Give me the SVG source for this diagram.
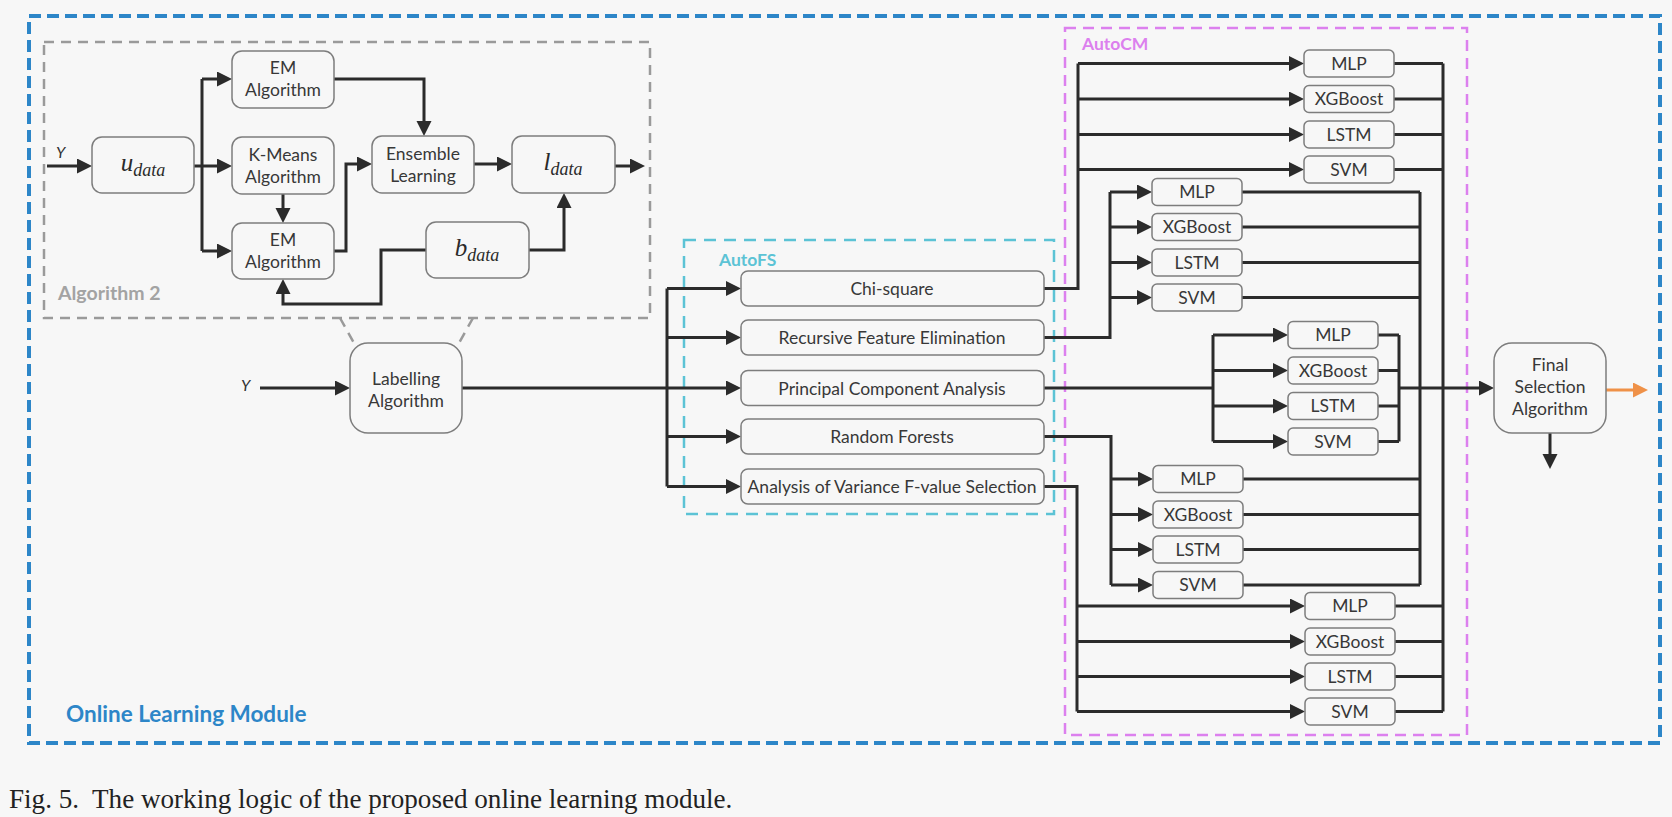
<svg xmlns="http://www.w3.org/2000/svg" width="1672" height="817" viewBox="0 0 1672 817">
<style>
.box{fill:#f7f7f7;stroke:#7d7d7d;stroke-width:1.5}
.t{font-family:Lato,"Open Sans",sans-serif;font-size:17.5px;fill:#383838;text-anchor:middle}
.m{font-family:"Liberation Serif",serif;font-style:italic;font-size:25px;fill:#2a2a2a;text-anchor:middle}
.sub{font-size:18px}
.ln{fill:none;stroke:#2b2b2b;stroke-width:3}
.ar{fill:none;stroke:#2b2b2b;stroke-width:3;marker-end:url(#ah)}
.grp{font-family:Lato,"Open Sans",sans-serif;font-weight:bold}
</style>
<defs>
<marker id="ah" markerUnits="userSpaceOnUse" markerWidth="16" markerHeight="16" refX="7" refY="7.5" orient="auto"><path d="M0,0 L15,7.5 L0,15 z" fill="#2b2b2b"/></marker>
<marker id="ao" markerUnits="userSpaceOnUse" markerWidth="16" markerHeight="16" refX="7" refY="7.5" orient="auto"><path d="M0,0 L15,7.5 L0,15 z" fill="#ef9148"/></marker>
</defs>
<rect x="0" y="0" width="1672" height="817" fill="#f7f7f7"/>

<g id="online-learning-module">
<rect x="29" y="16" width="1631" height="727" fill="none" stroke="#2d86c8" stroke-width="4" stroke-dasharray="12 6"/>
<text class="grp" x="66" y="722" font-size="22.5" fill="#2d86c8">Online Learning Module</text>
</g>

<g id="algorithm-2">
<rect x="44" y="42" width="606" height="276" fill="none" stroke="#9a9a9a" stroke-width="2.5" stroke-dasharray="10 7"/>
<text class="grp" x="58" y="300" font-size="19.5" fill="#a3a3a3">Algorithm 2</text>
<line x1="340" y1="318" x2="354" y2="343" stroke="#9a9a9a" stroke-width="2.5" stroke-dasharray="10 7"/>
<line x1="473" y1="318" x2="459" y2="343" stroke="#9a9a9a" stroke-width="2.5" stroke-dasharray="10 7"/>
</g>

<g id="autofs">
<rect x="684" y="240" width="370" height="274" fill="none" stroke="#5cc3d5" stroke-width="2.5" stroke-dasharray="12 8"/>
<text class="grp" x="719" y="266" font-size="17.5" fill="#5cc3d5">AutoFS</text>
</g>

<g id="autocm">
<rect x="1065" y="28" width="402" height="707" fill="none" stroke="#dc80ee" stroke-width="2.5" stroke-dasharray="11 7"/>
<text class="grp" x="1082" y="50" font-size="17.5" fill="#dc80ee">AutoCM</text>
</g>

<g id="connectors">
<path class="ar" d="M47,166 H84"/>
<path class="ar" d="M194,166 H224"/>
<path class="ln" d="M202,79 V251"/>
<path class="ar" d="M202,79 H224"/>
<path class="ar" d="M202,251 H224"/>
<path class="ar" d="M283,194 V215"/>
<path class="ar" d="M334,79 H424 V128"/>
<path class="ar" d="M334,251 H346 V164 H364"/>
<path class="ar" d="M474,164 H504"/>
<path class="ar" d="M615,166 H637"/>
<path class="ar" d="M529,250 H564 V201"/>
<path class="ar" d="M426,250 H381 V304 H283 V287"/>

<path class="ar" d="M260,388 H342"/>
<path class="ln" d="M462,388 H667"/>
<path class="ln" d="M667,288.5 V486.5"/>
<path class="ar" d="M667,288.5 H733"/>
<path class="ar" d="M667,337.5 H733"/>
<path class="ar" d="M667,388 H733"/>
<path class="ar" d="M667,436.5 H733"/>
<path class="ar" d="M667,486.5 H733"/>

<path class="ln" d="M1044,288.5 H1078 V63.5"/>
<path class="ar" d="M1078,63.5 H1296"/>
<path class="ar" d="M1078,99 H1296"/>
<path class="ar" d="M1078,134.5 H1296"/>
<path class="ar" d="M1078,169.5 H1296"/>
<path class="ln" d="M1394,63.5 H1443 M1394,99 H1443 M1394,134.5 H1443 M1394,169.5 H1443"/>
<path class="ln" d="M1443,63.5 V711.5"/>

<path class="ln" d="M1044,337.5 H1110 V192"/>
<path class="ar" d="M1110,192 H1144"/>
<path class="ar" d="M1110,227 H1144"/>
<path class="ar" d="M1110,262.5 H1144"/>
<path class="ar" d="M1110,297.5 H1144"/>
<path class="ln" d="M1242,192 H1420 M1242,227 H1420 M1242,262.5 H1420 M1242,297.5 H1420"/>
<path class="ln" d="M1420,192 V585"/>

<path class="ln" d="M1044,388 H1213"/>
<path class="ln" d="M1213,335 V441.5"/>
<path class="ar" d="M1213,335 H1280"/>
<path class="ar" d="M1213,370.5 H1280"/>
<path class="ar" d="M1213,406 H1280"/>
<path class="ar" d="M1213,441.5 H1280"/>
<path class="ln" d="M1378,335 H1399 M1378,370.5 H1399 M1378,406 H1399 M1378,441.5 H1399"/>
<path class="ln" d="M1399,335 V441.5"/>
<path class="ar" d="M1399,388 H1486"/>

<path class="ln" d="M1044,436.5 H1111 V585"/>
<path class="ar" d="M1111,479 H1145"/>
<path class="ar" d="M1111,514.5 H1145"/>
<path class="ar" d="M1111,549.5 H1145"/>
<path class="ar" d="M1111,585 H1145"/>
<path class="ln" d="M1243,479 H1420 M1243,514.5 H1420 M1243,549.5 H1420 M1243,585 H1420"/>

<path class="ln" d="M1044,486.5 H1077 V711.5"/>
<path class="ar" d="M1077,606 H1297"/>
<path class="ar" d="M1077,641.5 H1297"/>
<path class="ar" d="M1077,676.5 H1297"/>
<path class="ar" d="M1077,711.5 H1297"/>
<path class="ln" d="M1395,606 H1443 M1395,641.5 H1443 M1395,676.5 H1443 M1395,711.5 H1443"/>

<path fill="none" stroke="#ef9148" stroke-width="3" marker-end="url(#ao)" d="M1606,390 H1640"/>
<path class="ar" d="M1550,433 V461"/>
</g>

<g id="label-y1"><text x="56" y="158" font-family="Lato,'Open Sans',sans-serif" font-style="italic" font-size="16" fill="#333">Y</text></g>
<g id="label-y2"><text x="241" y="391" font-family="Lato,'Open Sans',sans-serif" font-style="italic" font-size="16" fill="#333">Y</text></g>

<g id="node-u-data"><rect class="box" x="92" y="137" width="102" height="56" rx="10"/><text class="m" x="143" y="171">u<tspan class="sub" dy="5">data</tspan></text></g>
<g id="node-em-top"><rect class="box" x="232" y="51" width="102" height="57" rx="10"/><text class="t" x="283" y="74">EM</text><text class="t" x="283" y="96">Algorithm</text></g>
<g id="node-kmeans"><rect class="box" x="232" y="137" width="102" height="57" rx="10"/><text class="t" x="283" y="161">K-Means</text><text class="t" x="283" y="183">Algorithm</text></g>
<g id="node-em-bottom"><rect class="box" x="232" y="223" width="102" height="56" rx="10"/><text class="t" x="283" y="246">EM</text><text class="t" x="283" y="268">Algorithm</text></g>
<g id="node-ensemble"><rect class="box" x="372" y="136" width="102" height="57" rx="10"/><text class="t" x="423" y="160">Ensemble</text><text class="t" x="423" y="182">Learning</text></g>
<g id="node-l-data"><rect class="box" x="512" y="136" width="103" height="57" rx="10"/><text class="m" x="563" y="170">l<tspan class="sub" dy="5">data</tspan></text></g>
<g id="node-b-data"><rect class="box" x="426" y="222" width="103" height="56" rx="10"/><text class="m" x="477" y="256">b<tspan class="sub" dy="5">data</tspan></text></g>

<g id="node-labelling"><rect class="box" x="350" y="343" width="112" height="90" rx="18"/><text class="t" x="406" y="385">Labelling</text><text class="t" x="406" y="407">Algorithm</text></g>

<g id="node-chi"><rect class="box" x="741" y="271" width="303" height="35" rx="7"/><text class="t" x="892" y="295">Chi-square</text></g>
<g id="node-rfe"><rect class="box" x="741" y="320" width="303" height="35" rx="7"/><text class="t" x="892" y="344">Recursive Feature Elimination</text></g>
<g id="node-pca"><rect class="box" x="741" y="370.5" width="303" height="35" rx="7"/><text class="t" x="892" y="394.5">Principal Component Analysis</text></g>
<g id="node-rf"><rect class="box" x="741" y="419" width="303" height="35" rx="7"/><text class="t" x="892" y="443">Random Forests</text></g>
<g id="node-anova"><rect class="box" x="741" y="469" width="303" height="35" rx="7"/><text class="t" x="892" y="493">Analysis of Variance F-value Selection</text></g>

<g id="models-chi">
<rect class="box" x="1304" y="50" width="90" height="27" rx="5"/><text class="t" x="1349" y="69.5">MLP</text>
<rect class="box" x="1304" y="85.5" width="90" height="27" rx="5"/><text class="t" x="1349" y="105">XGBoost</text>
<rect class="box" x="1304" y="121" width="90" height="27" rx="5"/><text class="t" x="1349" y="140.5">LSTM</text>
<rect class="box" x="1304" y="156" width="90" height="27" rx="5"/><text class="t" x="1349" y="175.5">SVM</text>
</g>
<g id="models-rfe">
<rect class="box" x="1152" y="178.5" width="90" height="27" rx="5"/><text class="t" x="1197" y="198">MLP</text>
<rect class="box" x="1152" y="213.5" width="90" height="27" rx="5"/><text class="t" x="1197" y="233">XGBoost</text>
<rect class="box" x="1152" y="249" width="90" height="27" rx="5"/><text class="t" x="1197" y="268.5">LSTM</text>
<rect class="box" x="1152" y="284" width="90" height="27" rx="5"/><text class="t" x="1197" y="303.5">SVM</text>
</g>
<g id="models-pca">
<rect class="box" x="1288" y="321.5" width="90" height="27" rx="5"/><text class="t" x="1333" y="341">MLP</text>
<rect class="box" x="1288" y="357" width="90" height="27" rx="5"/><text class="t" x="1333" y="376.5">XGBoost</text>
<rect class="box" x="1288" y="392.5" width="90" height="27" rx="5"/><text class="t" x="1333" y="412">LSTM</text>
<rect class="box" x="1288" y="428" width="90" height="27" rx="5"/><text class="t" x="1333" y="447.5">SVM</text>
</g>
<g id="models-rf">
<rect class="box" x="1153" y="465.5" width="90" height="27" rx="5"/><text class="t" x="1198" y="485">MLP</text>
<rect class="box" x="1153" y="501" width="90" height="27" rx="5"/><text class="t" x="1198" y="520.5">XGBoost</text>
<rect class="box" x="1153" y="536" width="90" height="27" rx="5"/><text class="t" x="1198" y="555.5">LSTM</text>
<rect class="box" x="1153" y="571.5" width="90" height="27" rx="5"/><text class="t" x="1198" y="591">SVM</text>
</g>
<g id="models-anova">
<rect class="box" x="1305" y="592.5" width="90" height="27" rx="5"/><text class="t" x="1350" y="612">MLP</text>
<rect class="box" x="1305" y="628" width="90" height="27" rx="5"/><text class="t" x="1350" y="647.5">XGBoost</text>
<rect class="box" x="1305" y="663" width="90" height="27" rx="5"/><text class="t" x="1350" y="682.5">LSTM</text>
<rect class="box" x="1305" y="698" width="90" height="27" rx="5"/><text class="t" x="1350" y="717.5">SVM</text>
</g>

<g id="node-final"><rect class="box" x="1494" y="343" width="112" height="90" rx="18"/><text class="t" x="1550" y="371">Final</text><text class="t" x="1550" y="393">Selection</text><text class="t" x="1550" y="415">Algorithm</text></g>

<g id="caption"><text x="9" y="808" xml:space="preserve" font-family="'Liberation Serif',serif" font-size="27.1" fill="#222">Fig. 5.  The working logic of the proposed online learning module.</text></g>
</svg>
